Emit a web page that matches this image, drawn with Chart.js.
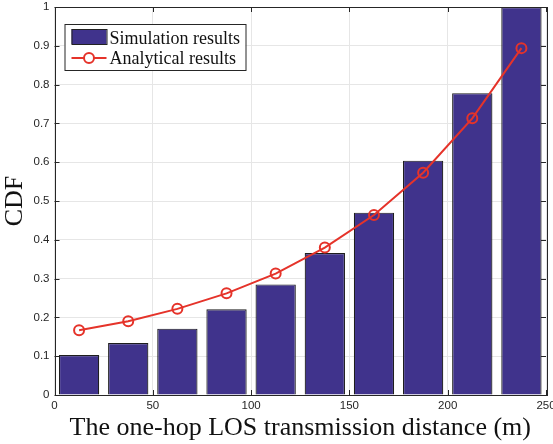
<!DOCTYPE html>
<html lang="en">
<head>
    <meta charset="UTF-8">
    <title>CDF of one-hop LOS transmission distance</title>
    <script src="https://cdn.jsdelivr.net/npm/chart.js"></script>
    <style>
        body { margin: 0; background: #fff; }
        #wrap { width: 553px; height: 444px; }
    </style>
</head>
<body>
<div id="wrap"><canvas id="cdfChart" width="553" height="444"></canvas></div>
<script>
    // distance bins (centres, m)
    const distances = [12.5, 37.5, 62.5, 87.5, 112.5, 137.5, 162.5, 187.5, 212.5, 237.5];
    const simulation = [0.103, 0.134, 0.171, 0.221, 0.285, 0.366, 0.470, 0.604, 0.778, 1.0];
    const analytical = [0.167, 0.190, 0.222, 0.262, 0.313, 0.380, 0.464, 0.573, 0.713, 0.894];
    const xTicks = [0, 50, 100, 150, 200, 250];
    const yTicks = [0, 0.1, 0.2, 0.3, 0.4, 0.5, 0.6, 0.7, 0.8, 0.9, 1];

    const barColor = '#40338c';
    const lineColor = '#e5332a';
    const axisColor = '#262626';

    // MATLAB style box with inward ticks
    const boxPlugin = {
        id: 'box',
        afterDatasetsDraw(chart) {
            const { ctx, chartArea: a, scales: { x, y } } = chart;
            ctx.save();
            ctx.strokeStyle = axisColor;
            ctx.lineWidth = 1;
            ctx.beginPath();
            xTicks.forEach(v => {
                const px = Math.round(x.getPixelForValue(v)) + 0.5;
                ctx.moveTo(px, a.bottom); ctx.lineTo(px, a.bottom - 5);
                ctx.moveTo(px, a.top); ctx.lineTo(px, a.top + 5);
            });
            yTicks.forEach(v => {
                const py = Math.round(y.getPixelForValue(v)) + 0.5;
                ctx.moveTo(a.left, py); ctx.lineTo(a.left + 5, py);
                ctx.moveTo(a.right, py); ctx.lineTo(a.right - 5, py);
            });
            ctx.stroke();
            ctx.strokeRect(Math.round(a.left) + 0.5, Math.round(a.top) + 0.5,
                Math.round(a.right - a.left), Math.round(a.bottom - a.top));
            ctx.restore();
        }
    };

    // legend box in the upper left corner
    const legendPlugin = {
        id: 'boxLegend',
        afterDraw(chart) {
            const { ctx, chartArea: a } = chart;
            const lx = a.left + 10, ly = a.top + 17;
            ctx.save();
            ctx.fillStyle = '#fff';
            ctx.fillRect(lx, ly, 181, 46);
            ctx.strokeStyle = axisColor;
            ctx.lineWidth = 1;
            ctx.strokeRect(lx + 0.5, ly + 0.5, 181, 46);

            ctx.fillStyle = barColor;
            ctx.fillRect(lx + 7, ly + 5, 35, 15);
            ctx.strokeStyle = '#222';
            ctx.strokeRect(lx + 7.5, ly + 5.5, 35, 15);

            ctx.strokeStyle = lineColor;
            ctx.lineWidth = 2;
            ctx.beginPath();
            ctx.moveTo(lx + 7, ly + 34); ctx.lineTo(lx + 42, ly + 34);
            ctx.stroke();
            ctx.beginPath();
            ctx.arc(lx + 24.5, ly + 34, 5, 0, Math.PI * 2);
            ctx.fillStyle = '#fff';
            ctx.fill();
            ctx.stroke();

            ctx.fillStyle = '#111';
            ctx.font = '18px "Liberation Serif", serif';
            ctx.textBaseline = 'alphabetic';
            ctx.fillText('Simulation results', lx + 45, ly + 20);
            ctx.fillText('Analytical results', lx + 45, ly + 40);
            ctx.restore();
        }
    };

    new Chart(document.getElementById('cdfChart'), {
        data: {
            datasets: [
                {
                    type: 'line',
                    label: 'Analytical results',
                    data: distances.map((d, i) => ({ x: d, y: analytical[i] })),
                    borderColor: lineColor,
                    borderWidth: 2,
                    pointRadius: 5,
                    pointBorderWidth: 2,
                    pointBackgroundColor: 'rgba(255,255,255,0)',
                    pointBorderColor: lineColor,
                    tension: 0,
                    order: 0
                },
                {
                    type: 'bar',
                    label: 'Simulation results',
                    data: distances.map((d, i) => ({ x: d, y: simulation[i] })),
                    backgroundColor: barColor,
                    borderColor: '#1e1e1e',
                    borderWidth: 1.2,
                    barPercentage: 0.82,
                    categoryPercentage: 1,
                    order: 1
                }
            ]
        },
        options: {
            responsive: false,
            animation: false,
            layout: { padding: { top: 6, right: 5, left: 0, bottom: 0 } },
            plugins: {
                legend: { display: false },
                tooltip: { enabled: false }
            },
            scales: {
                x: {
                    type: 'linear',
                    min: 0,
                    max: 250,
                    offset: false,
                    afterBuildTicks: s => { s.ticks = xTicks.map(v => ({ value: v })); },
                    afterFit: s => { s.height = 49; s.paddingRight = 0; },
                    grid: { color: '#e6e6e6', drawTicks: false, offset: false },
                    border: { display: false },
                    ticks: {
                        color: '#262626',
                        font: { family: '"Liberation Sans", Arial, sans-serif', size: 11.5 },
                        padding: 4,
                        maxRotation: 0,
                        autoSkip: false
                    },
                    title: {
                        display: true,
                        text: 'The one-hop LOS transmission distance (m)',
                        color: '#111',
                        font: { family: '"Liberation Serif", serif', size: 26 },
                        padding: { top: 0, bottom: 0 }
                    }
                },
                y: {
                    min: 0,
                    max: 1,
                    afterBuildTicks: s => { s.ticks = yTicks.map(v => ({ value: v })); },
                    afterFit: s => { s.width = 54.5; s.paddingTop = 0; s.paddingBottom = 0; },
                    grid: { color: '#e6e6e6', drawTicks: false },
                    border: { display: false },
                    ticks: {
                        color: '#262626',
                        font: { family: '"Liberation Sans", Arial, sans-serif', size: 11.5 },
                        padding: 5,
                        callback: v => String(Math.round(v * 10) / 10)
                    },
                    title: {
                        display: true,
                        text: 'CDF',
                        color: '#111',
                        font: { family: '"Liberation Serif", serif', size: 26 },
                        padding: { top: 0, bottom: 0 }
                    }
                }
            }
        },
        plugins: [boxPlugin, legendPlugin]
    });
</script>
</body>
</html>
